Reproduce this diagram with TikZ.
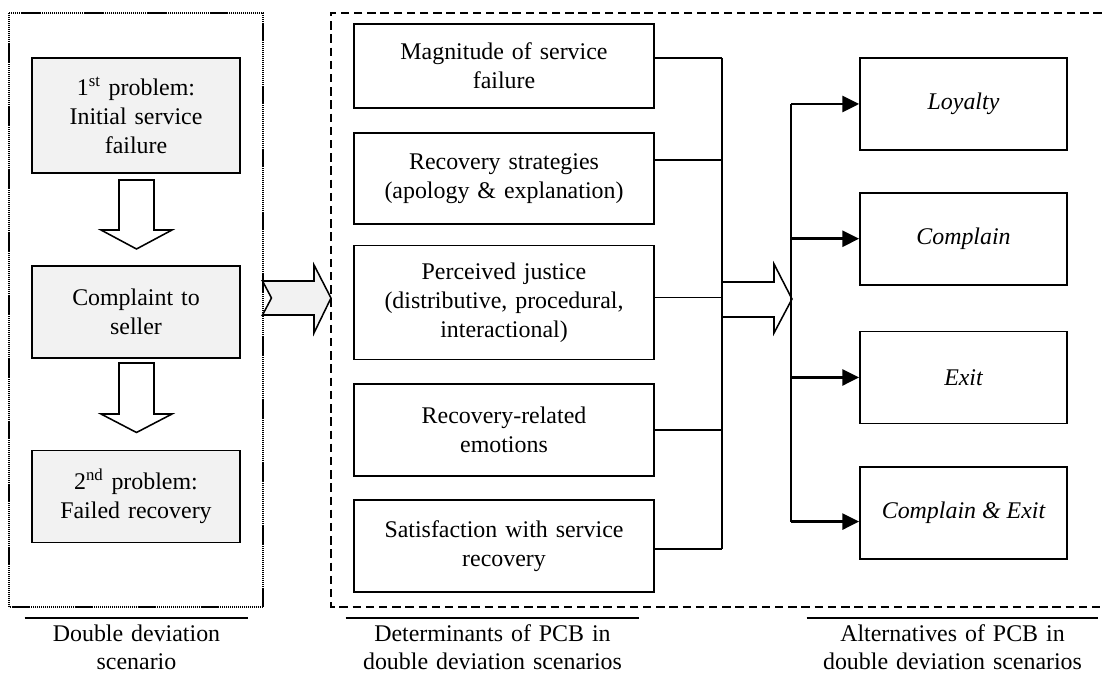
\documentclass[tikz,border=0pt]{standalone}
\usepackage{fontspec}
\setmainfont{Liberation Serif}
\usetikzlibrary{arrows.meta,positioning}
\definecolor{ProblemColor}{rgb}{0.95,0.95,0.95}
\definecolor{ShiftColor}{rgb}{0.95,0.95,0.95}
\tikzset{
    box/.style={rectangle, draw, line width=1.2pt, text centered, align=center, font=\fontsize{17}{20.6}\selectfont},
    problem/.style={box, fill=ProblemColor, minimum width=5.2cm, text width=4.7cm},
    determinant/.style={box, minimum width=7.5cm, text width=7.1cm},
    alternative/.style={box, minimum width=5.175cm, minimum height=2.3cm, font=\fontsize{17}{20.6}\selectfont\itshape},
    caption/.style={anchor=north, align=center, inner xsep=0pt, inner ysep=0.17cm, font=\fontsize{17}{19.6}\selectfont},
    rule/.style={line width=1.3pt},
    link/.style={line width=1.1pt},
    choice/.style={-{Triangle[length=0.42cm,width=0.4cm]}, line width=2pt},
    blockarrow/.style={draw, line width=1.1pt, line join=miter},
    scenarioframe/.style={line width=1.5pt, dash pattern=on 0.9pt off 0.5pt},
    pcbframe/.style={line width=1.5pt, dash pattern=on 0.21cm off 0.12cm}
}

\begin{document}
\begin{tikzpicture}[x=0.025cm, y=-0.025cm]
\useasboundingbox (0,0) rectangle (1105,675);

% Frames
\draw[scenarioframe] (9,13) rectangle (263,607);
\draw[pcbframe] (1115,13) -- (331,13) -- (331,607) -- (1115,607);

% Double deviation scenario
\node (first) [problem, minimum height=2.875cm] at (136,115.5) {1\textsuperscript{st} problem:\\ Initial service\\ failure};
\node (complaint) [problem, minimum height=2.3cm, below=2.275cm of first] {Complaint to\\ seller};
\node (second) [problem, minimum height=2.3cm, below=2.275cm of complaint] {2\textsuperscript{nd} problem:\\ Failed recovery};

\draw[blockarrow, fill=white] (119,180) -- ++(0,50) -- ++(-18,0) -- ++(35.5,19) -- ++(35.5,-19) -- ++(-18,0) -- ++(0,-50) -- cycle;
\draw[blockarrow, fill=white] (119,363) -- ++(0,51) -- ++(-18,0) -- ++(35.5,18.5) -- ++(35.5,-18.5) -- ++(-18,0) -- ++(0,-51) -- cycle;

% Shift to the determinants
\draw[blockarrow, fill=ShiftColor] (262.5,281) -- (314,281) -- (314,265) -- (331,298) -- (314,333) -- (314,315) -- (262.5,315) -- (271.5,298) -- cycle;

% Determinants
\node (magnitude) [determinant, minimum height=2.1cm] at (504,66) {Magnitude of service\\ failure};
\node (strategies) [determinant, minimum height=2.275cm, below=0.575cm of magnitude] {Recovery strategies\\ (apology \& explanation)};
\node (justice) [determinant, minimum height=2.85cm, below=0.5cm of strategies] {Perceived justice\\ (distributive, procedural,\\ interactional)};
\node (emotions) [determinant, minimum height=2.3cm, below=0.575cm of justice] {Recovery-related\\ emotions};
\node (satisfaction) [determinant, minimum height=2.3cm, below=0.55cm of emotions] {Satisfaction with service\\ recovery};

\coordinate (collect) at (722,0);
\coordinate (spread) at (791,0);
\path ([yshift=0.2cm]magnitude.east) coordinate (d1);
\path ([yshift=0.46cm]strategies.east) coordinate (d2);
\path ([yshift=0.125cm]justice.east) coordinate (d3);
\path (emotions.east) coordinate (d4);
\path ([yshift=-0.075cm]satisfaction.east) coordinate (d5);

\draw[link] (d1) -- (d1 -| collect);
\draw[link] (d2) -- (d2 -| collect);
\draw[link] (d3) -- (d3 -| collect);
\draw[link] (d4) -- (d4 -| collect);
\draw[link] (d5) -- (d5 -| collect);
\draw[link] (d1 -| collect) -- (d5 -| collect);

\draw[blockarrow, fill=white] (722,282) -- (774,282) -- (774,264) -- (792,299) -- (774,333) -- (774,317) -- (722,317) -- cycle;

% Alternatives
\node (loyalty) [alternative] at (963.5,104) {Loyalty};
\node (complain) [alternative, below=1.025cm of loyalty] {Complain};
\node (exit) [alternative, below=1.125cm of complain] {Exit};
\node (both) [alternative, below=1.05cm of exit] {Complain \& Exit};

\path ([yshift=-0.21cm]both.west) coordinate (a4);
\draw[link] (loyalty.west -| spread) -- (a4 -| spread);
\draw[choice] (loyalty.west -| spread) -- (loyalty.west);
\draw[choice] (complain.west -| spread) -- (complain.west);
\draw[choice] (exit.west -| spread) -- (exit.west);
\draw[choice] (a4 -| spread) -- (a4);

% Captions
\node (scenario) [caption, text width=5.575cm] at (136.5,618) {Double deviation\\ scenario};
\node (determinants) [caption, text width=7.325cm] at (492.5,618) {Determinants of PCB in\\ double deviation scenarios};
\node (alternatives) [caption, text width=7.275cm] at (952.5,618) {Alternatives of PCB in\\ double deviation scenarios};
\draw[rule] (scenario.north west) -- (scenario.north east);
\draw[rule] (determinants.north west) -- (determinants.north east);
\draw[rule] (alternatives.north west) -- (alternatives.north east);

\end{tikzpicture}
\end{document}
